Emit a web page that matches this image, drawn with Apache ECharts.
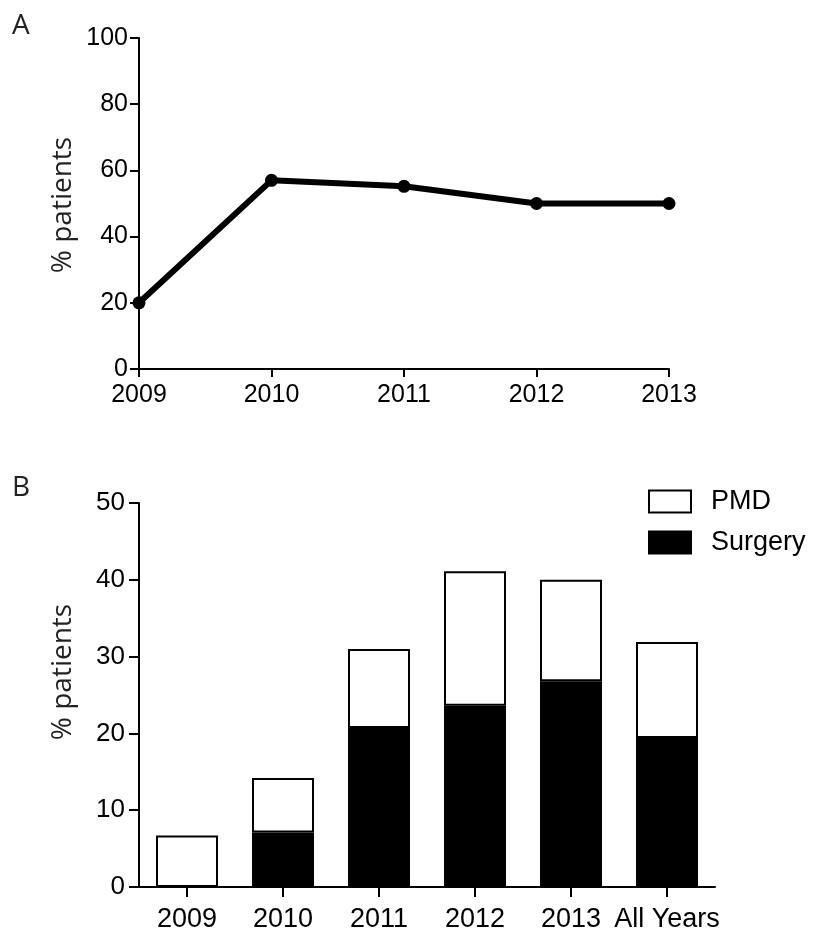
<!DOCTYPE html>
<html>
<head>
<meta charset="utf-8">
<script src="https://cdn.jsdelivr.net/npm/echarts@6/dist/echarts.min.js"></script>
<style>
html,body{margin:0;padding:0;background:#fff;}
#chart{width:815px;height:933px;}
</style>
</head>
<body>
<div id="chart"></div>
<script>
// Panel A data
const yearsA = ['2009', '2010', '2011', '2012', '2013'];
const percentA = [20, 57, 55.2, 50, 50];

// Panel B data
const categoriesB = ['2009', '2010', '2011', '2012', '2013', 'All Years'];
const surgeryB = [0, 7.1, 20.7, 23.6, 26.8, 19.4];
const pmdB = [6.7, 7.1, 10.3, 17.5, 13.2, 12.5];

const tickFont = 'Liberation Sans, Arial, sans-serif';
const titleFont = 'Open Sans, Noto Sans, sans-serif';
const ink = '#000';

const chart = echarts.init(document.getElementById('chart'), null, {renderer: 'canvas'});

const option = {
  backgroundColor: '#fff',
  animation: false,
  grid: [
    {left: 139, top: 38, width: 530, height: 331, containLabel: false},
    {left: 139, top: 503, width: 576, height: 384, containLabel: false}
  ],
  xAxis: [
    {
      gridIndex: 0, type: 'category', data: yearsA, boundaryGap: false,
      axisLine: {lineStyle: {color: ink, width: 2}},
      axisTick: {show: true, length: 8, lineStyle: {color: ink, width: 2}},
      axisLabel: {color: ink, fontFamily: tickFont, fontSize: 25, margin: 14}
    },
    {
      gridIndex: 1, type: 'category', data: categoriesB, boundaryGap: true,
      axisLine: {lineStyle: {color: ink, width: 2}},
      axisTick: {show: true, alignWithLabel: true, length: 10, lineStyle: {color: ink, width: 2}},
      axisLabel: {color: ink, fontFamily: tickFont, fontSize: 27, margin: 19, interval: 0}
    }
  ],
  yAxis: [
    {
      gridIndex: 0, type: 'value', min: 0, max: 100, interval: 20,
      axisLine: {show: true, lineStyle: {color: ink, width: 2}},
      axisTick: {show: true, length: 9, lineStyle: {color: ink, width: 2}},
      splitLine: {show: false},
      axisLabel: {color: ink, fontFamily: tickFont, fontSize: 25, margin: 11}
    },
    {
      gridIndex: 1, type: 'value', min: 0, max: 50, interval: 10,
      axisLine: {show: true, lineStyle: {color: ink, width: 2}},
      axisTick: {show: true, length: 10, lineStyle: {color: ink, width: 2}},
      splitLine: {show: false},
      axisLabel: {color: ink, fontFamily: tickFont, fontSize: 26, margin: 14}
    }
  ],
  legend: {
    orient: 'vertical', left: 643, top: 483,
    itemWidth: 42, itemHeight: 22, itemGap: 14, icon: 'rect',
    textStyle: {color: ink, fontFamily: tickFont, fontSize: 27, padding: [0, 0, 0, 15]},
    data: [
      {name: 'PMD', itemStyle: {color: '#fff', borderColor: ink, borderWidth: 2}},
      {name: 'Surgery', itemStyle: {color: ink, borderColor: ink, borderWidth: 2}}
    ]
  },
  series: [
    {
      type: 'line', xAxisIndex: 0, yAxisIndex: 0, data: percentA,
      symbol: 'circle', symbolSize: 13, clip: false,
      lineStyle: {color: ink, width: 6},
      itemStyle: {color: ink}
    },
    {
      name: 'Surgery', type: 'bar', xAxisIndex: 1, yAxisIndex: 1, stack: 'b',
      data: surgeryB, barWidth: 62,
      itemStyle: {color: ink, borderColor: ink, borderWidth: 2}
    },
    {
      name: 'PMD', type: 'bar', xAxisIndex: 1, yAxisIndex: 1, stack: 'b',
      data: pmdB, barWidth: 62,
      itemStyle: {color: '#fff', borderColor: ink, borderWidth: 2}
    }
  ],
  graphic: [
    {type: 'text', left: 12, top: 12, style: {text: 'A', fill: '#222', font: '28px ' + titleFont}},
    {type: 'text', left: 12, top: 474, style: {text: 'B', fill: '#222', font: '28px ' + titleFont}},
    {type: 'text', x: 63, y: 205, rotation: Math.PI / 2,
      style: {text: '% patients', fill: '#222', font: '28px ' + titleFont, align: 'center', verticalAlign: 'middle'}},
    {type: 'text', x: 63, y: 672, rotation: Math.PI / 2,
      style: {text: '% patients', fill: '#222', font: '28px ' + titleFont, align: 'center', verticalAlign: 'middle'}}
  ]
};
chart.setOption(option);
</script>
</body>
</html>
